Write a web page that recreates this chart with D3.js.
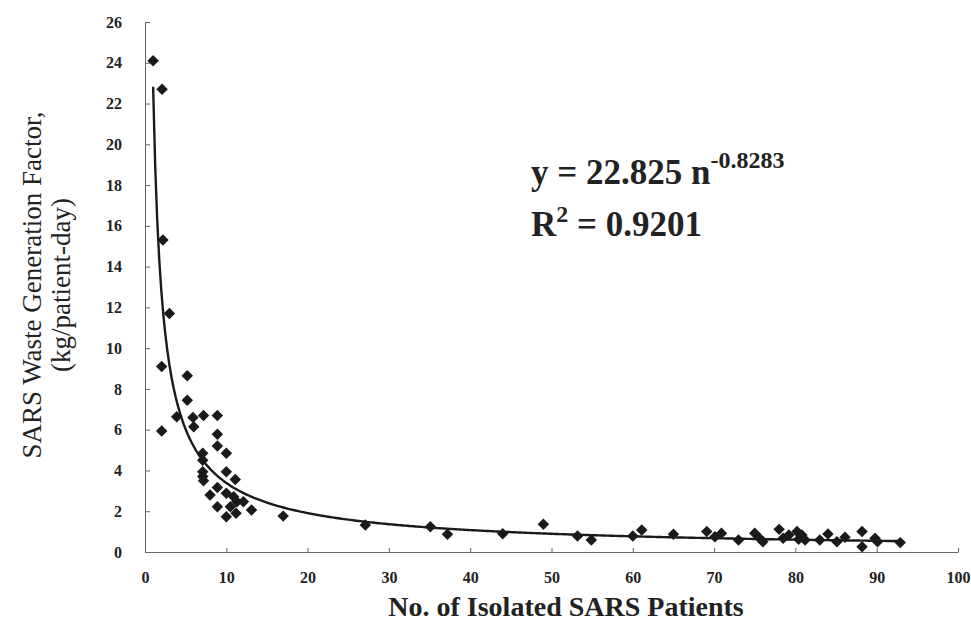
<!DOCTYPE html>
<html lang="en">
<head>
  <meta charset="UTF-8" />
  <title>SARS Waste Generation Factor</title>
  <script src="https://d3js.org/d3.v7.min.js"></script>
  <style>
    body { margin: 0; background: #fff; }
    .axis path, .axis line { stroke: #666; stroke-width: 1; }
  </style>
</head>
<body>
  <svg id="chart" width="971" height="625"></svg>
  <script>
    // number of patients (n) and waste factor (kg/patient-day)
    const patients = [1, 2.1, 2.2, 3.0, 2.05, 5.2, 5.2, 3.9, 5.9, 7.2, 8.9, 6.0, 2.05, 8.9, 8.9,
      10.0, 7.1, 7.1, 7.1, 7.1, 7.2, 10.0, 11.1, 8.9, 8.0, 10.0, 10.9, 11.3, 8.9, 10.5, 12.1,
      13.1, 10.0, 11.2, 17.0, 27.1, 35.1, 37.2, 44.0, 49.0, 53.2, 54.9, 60.0, 61.1, 65.0,
      69.1, 70.9, 70.1, 73.0, 75.0, 75.6, 76.0, 78.0, 78.5, 79.2, 80.2, 80.8, 80.4, 81.2,
      83.0, 84.0, 85.1, 86.1, 88.2, 88.2, 89.8, 90.1, 92.9];
    const wasteFactor = [24.1, 22.7, 15.3, 11.7, 9.1, 8.65, 7.45, 6.63, 6.6, 6.7, 6.7, 6.14, 5.93, 5.78, 5.2,
      4.84, 4.84, 4.5, 3.94, 3.7, 3.5, 3.94, 3.56, 3.17, 2.8, 2.88, 2.71, 2.47, 2.22, 2.22, 2.47,
      2.06, 1.73, 1.9, 1.76, 1.32, 1.24, 0.87, 0.9, 1.36, 0.78, 0.59, 0.78, 1.08, 0.87,
      1.0, 0.92, 0.75, 0.59, 0.92, 0.67, 0.5, 1.11, 0.67, 0.83, 1.0, 0.83, 0.62, 0.59,
      0.59, 0.88, 0.5, 0.72, 1.0, 0.26, 0.67, 0.5, 0.46];

    // power-law trendline as printed on the chart
    const fitCoef = 22.825;
    const fitExp = -0.8283;
    const fitR2 = 0.9201;
    const fitRange = [1, 93];

    const xTicks = [0, 10, 20, 30, 40, 50, 60, 70, 80, 90, 100];
    const yTicks = [0, 2, 4, 6, 8, 10, 12, 14, 16, 18, 20, 22, 24, 26];

    const serif = '"Liberation Serif"';
    const ink = "#222";

    const svg = d3.select("#chart");
    const x = d3.scaleLinear().domain([0, 100]).range([145, 958]);
    const y = d3.scaleLinear().domain([0, 26]).range([552, 22]);

    const xAxis = svg.append("g")
      .attr("class", "axis")
      .attr("transform", `translate(0,${y(0)})`)
      .call(d3.axisBottom(x).tickValues(xTicks).tickSizeInner(-4).tickSizeOuter(0).tickPadding(20));
    xAxis.selectAll("text")
      .style("font-family", serif).style("font-size", "16px").style("font-weight", "bold")
      .attr("fill", ink);

    const yAxis = svg.append("g")
      .attr("class", "axis")
      .attr("transform", `translate(${x(0)},0)`)
      .call(d3.axisLeft(y).tickValues(yTicks).tickSizeInner(-5).tickSizeOuter(0).tickPadding(23));
    yAxis.selectAll("text")
      .style("font-family", serif).style("font-size", "16px").style("font-weight", "bold")
      .attr("fill", ink);

    // trendline
    const fitPts = d3.range(fitRange[0], fitRange[1] + 0.01, 0.25)
      .map(n => [n, fitCoef * Math.pow(n, fitExp)]);
    svg.append("path")
      .datum(fitPts)
      .attr("fill", "none")
      .attr("stroke", "#1a1a1a")
      .attr("stroke-width", 2.4)
      .attr("d", d3.line().x(d => x(d[0])).y(d => y(d[1])));

    // diamond markers
    const diamond = d3.symbol().type(d3.symbolSquare).size(66);
    svg.append("g")
      .selectAll("path")
      .data(patients.map((n, i) => [n, wasteFactor[i]]))
      .join("path")
      .attr("d", diamond)
      .attr("fill", "#1a1a1a")
      .attr("transform", d => `translate(${x(d[0])},${y(d[1])}) rotate(45)`);

    // axis titles
    svg.append("text")
      .attr("x", 566).attr("y", 616)
      .attr("text-anchor", "middle")
      .attr("fill", ink)
      .style("font-family", serif).style("font-size", "28px").style("font-weight", "bold")
      .text("No. of Isolated SARS Patients");

    const yTitle = svg.append("text")
      .attr("transform", "translate(0,285) rotate(-90)")
      .attr("text-anchor", "middle")
      .attr("fill", ink)
      .style("font-family", serif).style("font-size", "27px");
    yTitle.append("tspan").attr("x", 0).attr("y", 41).text("SARS Waste Generation Factor,");
    yTitle.append("tspan").attr("x", 0).attr("y", 70).text("(kg/patient-day)");

    // equation
    const eqStyle = t => t.attr("fill", ink)
      .style("font-family", serif).style("font-size", "35px").style("font-weight", "bold");

    const eq = svg.append("text").attr("x", 531).attr("y", 184).call(eqStyle);
    eq.append("tspan").text(`y = ${fitCoef} n`);
    eq.append("tspan").attr("dy", -16).style("font-size", "24px").text(fitExp);

    const r2 = svg.append("text").attr("x", 531).attr("y", 236).call(eqStyle);
    r2.append("tspan").text("R");
    r2.append("tspan").attr("dy", -14).style("font-size", "24px").text("2");
    r2.append("tspan").attr("dy", 14).text(` = ${fitR2}`);
  </script>
</body>
</html>
